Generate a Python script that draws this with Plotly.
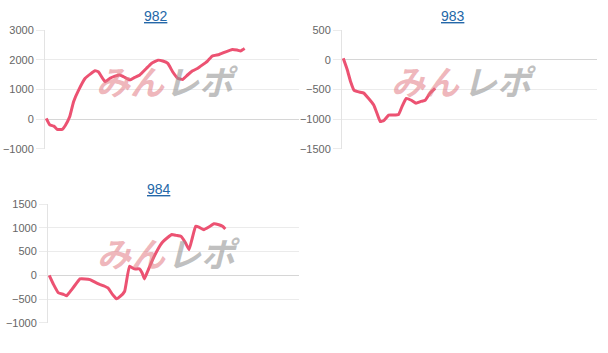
import plotly.graph_objects as go

# ---- data ----
titles = ["982", "983", "984"]

x982 = [0, 1.4, 3.0, 4.3, 6.3, 7.6, 9.3, 10.8, 12.8, 15.4, 17.4, 19.3, 20.6, 23.3, 25.2, 27.2, 29.1,
        31.1, 33.1, 35.0, 37.0, 39.6, 41.6, 44.2, 46.1, 48.1, 50.0, 52.0, 54.0, 55.9, 57.9, 59.8,
        61.8, 63.8, 65.7, 68.4, 71.0, 73.6, 75.5, 76.9, 78.5]
y982 = [30, -190, -230, -340, -340, -200, 90, 590, 980, 1380, 1520, 1630, 1600, 1260, 1380, 1450, 1490,
        1410, 1320, 1410, 1490, 1710, 1880, 1990, 1960, 1880, 1600, 1380, 1340, 1490, 1630, 1710,
        1830, 1960, 2130, 2180, 2270, 2350, 2330, 2300, 2380]

x983 = [0, 1.6, 2.9, 4.2, 6.1, 8.1, 10.0, 12.0, 13.3, 14.6, 16.0, 17.9, 19.8, 21.8, 23.1, 24.8,
        26.8, 28.7, 30.6, 32.3, 34.2, 36.2]
y983 = [25, -170, -370, -510, -540, -560, -650, -760, -900, -1040, -1020, -930, -930, -920, -790, -650,
        -680, -730, -700, -680, -560, -480]

x984 = [0, 1.7, 3.7, 5.7, 7.0, 9.0, 11.0, 12.3, 14.3, 16.3, 18.3, 20.2, 22.2, 23.5, 25.3, 26.9,
        28.5, 30.2, 32.1, 34.1, 36.1, 37.2, 38.1, 39.4, 41.4, 43.4, 45.4, 47.3, 49.1, 50.9, 52.7,
        54.6, 56.0, 57.3, 58.6, 59.9, 61.9, 63.9, 65.9, 67.9, 69.4, 70.5]
y984 = [0, -190, -370, -400, -430, -300, -160, -75, -75, -90, -145, -190, -230, -265, -400, -495,
        -440, -335, 190, 135, 135, 50, -75, 85, 330, 540, 700, 790, 860, 840, 820,
        680, 540, 790, 1030, 1015, 960, 1015, 1085, 1065, 1030, 975]

y_ranges = [[-1000, 3000], [-1500, 500], [-1000, 1500]]
y_dticks = [1000, 500, 500]

W, H = 608, 353
LINE = "#ec5272"

fig = go.Figure()

# axis geometry (pixels): left, right, top, bottom
boxes = [(45, 299, 25, 148), (342, 597, 25, 148), (48, 299, 205, 328)]
series = [(x982, y982), (x983, y983), (x984, y984)]

for i, ((xs, ys), (l, r, t, b)) in enumerate(zip(series, boxes)):
    n = "" if i == 0 else str(i + 1)
    fig.add_trace(go.Scatter(x=xs, y=ys, mode="lines",
                             line=dict(color=LINE, width=3, shape="spline", smoothing=0.3),
                             xaxis="x" + n, yaxis="y" + n, showlegend=False, hoverinfo="skip"))
    fig.layout["xaxis" + n] = dict(domain=[l / W, r / W], range=[-0.5, 100], showticklabels=False,
                                   showgrid=False, zeroline=False, showline=False, anchor="y" + n,
                                   fixedrange=True)
    fig.layout["yaxis" + n] = dict(domain=[1 - b / H, 1 - t / H], range=y_ranges[i], dtick=y_dticks[i],
                                   showgrid=True, gridcolor="#ebebeb", gridwidth=1,
                                   zeroline=True, zerolinecolor="#d6d6d6", zerolinewidth=1,
                                   showline=True, linecolor="#e3e3e3", linewidth=1,
                                   ticks="outside", ticklen=8, tickcolor="#ebebeb",
                                   tickfont=dict(family="Liberation Sans, Arial", size=11, color="#666666"),
                                   anchor="x" + n, fixedrange=True)

# titles
title_pos = [(156, 10), (453, 10), (159, 189)]
for txt, (px, py) in zip(titles, title_pos):
    fig.add_annotation(text="<u>" + txt + "</u>", xref="paper", yref="paper",
                       x=px / W, y=1 - py / H, showarrow=False, xanchor="center", yanchor="middle",
                       font=dict(family="Liberation Sans, Arial", size=14, color="#2467a8"))

# watermark text
wm = [(33.2, 1300, 61.8, 1300), (32.4, -350, 61.8, -350), (33.1, 470, 62.1, 470)]
for i, (xa, ya, xb, yb) in enumerate(wm):
    n = "" if i == 0 else str(i + 1)
    fig.add_annotation(text="<b><i>みん</i></b>", xref="x" + n, yref="y" + n, x=xa, y=ya, showarrow=False,
                       font=dict(family="Noto Sans CJK JP", size=34, color="rgba(225,120,130,0.55)"))
    fig.add_annotation(text="<b><i>レポ</i></b>", xref="x" + n, yref="y" + n, x=xb, y=yb, showarrow=False,
                       font=dict(family="Noto Sans CJK JP", size=34, color="rgba(150,150,150,0.6)"))

fig.update_layout(width=W, height=H, margin=dict(l=0, r=0, t=0, b=0),
                  paper_bgcolor="white", plot_bgcolor="white")

fig.write_html("out.html")
